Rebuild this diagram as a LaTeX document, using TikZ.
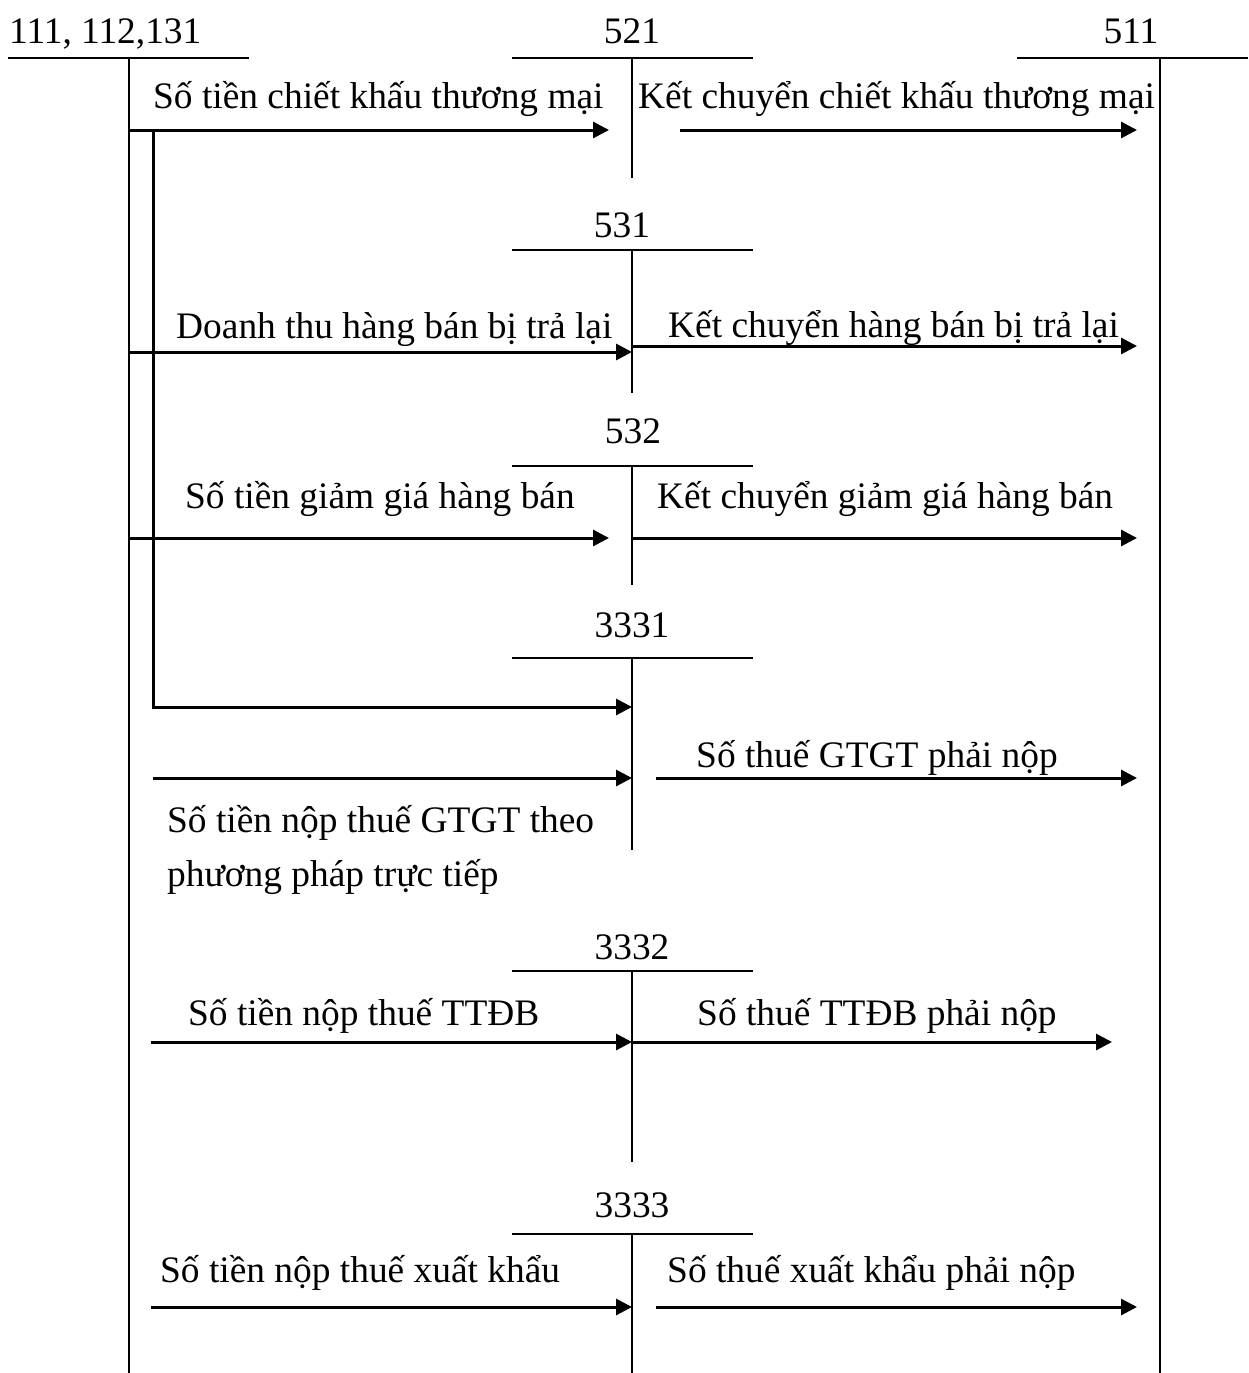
\documentclass[tikz,border=0pt]{standalone}
\usepackage{fontspec}
\setmainfont{Liberation Serif}
\usetikzlibrary{arrows.meta}
\begin{document}
\begin{tikzpicture}[x=1pt,y=-1pt,
  tline/.style={line width=2pt},
  flow/.style={line width=3pt,-{Triangle[length=16pt,width=16pt]}},
  lbl/.style={anchor=base west,inner sep=0pt,font=\fontsize{37.4}{44}\selectfont},
  acct/.style={anchor=base,inner sep=0pt,font=\fontsize{37.4}{44}\selectfont}]
\useasboundingbox (0,0) rectangle (1248,1373);

% account titles
\node[lbl]  (a111)  at (9,43)     {111, 112,131};
\node[acct] (a521)  at (632,43)   {521};
\node[acct] (a511)  at (1131,43)  {511};
\node[acct] (a531)  at (622,237)  {531};
\node[acct] (a532)  at (633,443)  {532};
\node[acct] (a3331) at (632,637)  {3331};
\node[acct] (a3332) at (632,959)  {3332};
\node[acct] (a3333) at (632,1217) {3333};

% T-account frames
\draw[tline] (8,58) -- (249,58);      \draw[tline] (129,58) -- (129,1373);
\draw[tline] (512,58) -- (753,58);    \draw[tline] (632,58) -- (632,178);
\draw[tline] (1017,58) -- (1248,58);  \draw[tline] (1160,58) -- (1160,1373);
\draw[tline] (512,250) -- (753,250);  \draw[tline] (632,250) -- (632,393);
\draw[tline] (512,466) -- (753,466);  \draw[tline] (632,466) -- (632,585);
\draw[tline] (512,658) -- (753,658);  \draw[tline] (632,658) -- (632,850);
\draw[tline] (512,971) -- (753,971);  \draw[tline] (632,971) -- (632,1162);
\draw[tline] (512,1234) -- (753,1234);\draw[tline] (632,1234) -- (632,1373);

% endpoints
\coordinate (s1) at (129,130);  \coordinate (e1) at (609,130);
\coordinate (s2) at (680,130);  \coordinate (e2) at (1137,130);
\coordinate (s3) at (129,352);  \coordinate (e3) at (632,352);
\coordinate (s4) at (632,346);  \coordinate (e4) at (1137,346);
\coordinate (s5) at (129,538);  \coordinate (e5) at (609,538);
\coordinate (s6) at (632,538);  \coordinate (e6) at (1137,538);
\coordinate (s7) at (153,130);  \coordinate (k7) at (153,707); \coordinate (e7) at (632,707);
\coordinate (s8) at (153,778);  \coordinate (e8) at (632,778);
\coordinate (s9) at (656,778);  \coordinate (e9) at (1137,778);
\coordinate (s10) at (151,1042); \coordinate (e10) at (632,1042);
\coordinate (s11) at (632,1042); \coordinate (e11) at (1112,1042);
\coordinate (s12) at (151,1307); \coordinate (e12) at (632,1307);
\coordinate (s13) at (656,1307); \coordinate (e13) at (1137,1307);

% arrows
\draw[flow] (s1) -- (e1);
\draw[flow] (s2) -- (e2);
\draw[flow] (s3) -- (e3);
\draw[flow] (s4) -- (e4);
\draw[flow] (s5) -- (e5);
\draw[flow] (s6) -- (e6);
\draw[flow] (s7) -- (k7) -- (e7);
\draw[flow] (s8) -- (e8);
\draw[flow] (s9) -- (e9);
\draw[flow] (s10) -- (e10);
\draw[flow] (s11) -- (e11);
\draw[flow] (s12) -- (e12);
\draw[flow] (s13) -- (e13);

% labels
\node[lbl] (l1)  at (153,108)  {Số tiền chiết khấu thương mại};
\node[lbl] (l2)  at (638,108)  {Kết chuyển chiết khấu thương mại};
\node[lbl] (l3)  at (176,338)  {Doanh thu hàng bán bị trả lại};
\node[lbl] (l4)  at (668,337)  {Kết chuyển hàng bán bị trả lại};
\node[lbl] (l5)  at (185,508)  {Số tiền giảm giá hàng bán};
\node[lbl] (l6)  at (657,508)  {Kết chuyển giảm giá hàng bán};
\node[lbl] (l7)  at (696,767)  {Số thuế GTGT phải nộp};
\node[lbl] (l8)  at (167,832)  {Số tiền nộp thuế GTGT theo};
\node[lbl] (l8b) at (167,886)  {phương pháp trực tiếp};
\node[lbl] (l9)  at (188,1025) {Số tiền nộp thuế TTĐB};
\node[lbl] (l10) at (697,1025) {Số thuế TTĐB phải nộp};
\node[lbl] (l11) at (160,1282) {Số tiền nộp thuế xuất khẩu};
\node[lbl] (l12) at (667,1282) {Số thuế xuất khẩu phải nộp};
\end{tikzpicture}
\end{document}
